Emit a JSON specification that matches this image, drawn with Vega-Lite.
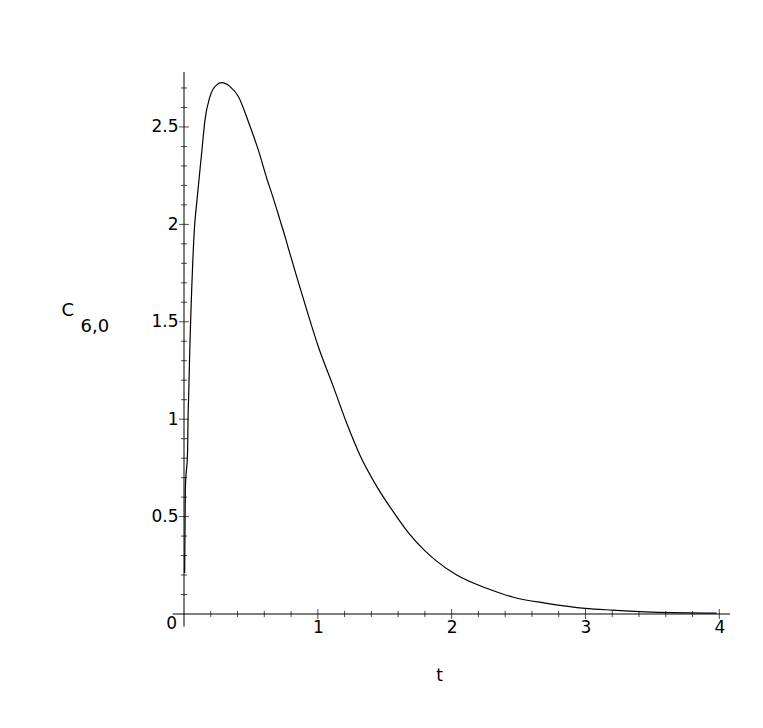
{
  "$schema": "https://vega.github.io/schema/vega-lite/v6.json",
  "width": 546,
  "height": 542,
  "autosize": {"type": "none"},
  "padding": {"left": 184, "top": 72, "right": 33, "bottom": 114},
  "background": "white",
  "config": {
    "view": {"stroke": null},
    "font": "DejaVu Sans",
    "axis": {"grid": false, "labelColor": "black", "titleColor": "black", "titleFontWeight": "normal", "labelFont": "DejaVu Sans", "titleFont": "DejaVu Sans"}
  },
  "datasets": {
    "curve": [
      {"t": 0.005, "c": 0.21},
      {"t": 0.010, "c": 0.64},
      {"t": 0.027, "c": 0.84},
      {"t": 0.030, "c": 1.0},
      {"t": 0.034, "c": 1.10},
      {"t": 0.045, "c": 1.40},
      {"t": 0.055, "c": 1.62},
      {"t": 0.065, "c": 1.80},
      {"t": 0.078, "c": 1.98},
      {"t": 0.095, "c": 2.11},
      {"t": 0.132, "c": 2.367},
      {"t": 0.157, "c": 2.536},
      {"t": 0.194, "c": 2.656},
      {"t": 0.244, "c": 2.716},
      {"t": 0.282, "c": 2.727},
      {"t": 0.344, "c": 2.707},
      {"t": 0.406, "c": 2.656},
      {"t": 0.481, "c": 2.527},
      {"t": 0.555, "c": 2.382},
      {"t": 0.630, "c": 2.211},
      {"t": 0.655, "c": 2.160},
      {"t": 0.717, "c": 2.023},
      {"t": 0.755, "c": 1.937},
      {"t": 0.780, "c": 1.877},
      {"t": 0.842, "c": 1.732},
      {"t": 0.917, "c": 1.561},
      {"t": 1.004, "c": 1.372},
      {"t": 1.116, "c": 1.167},
      {"t": 1.216, "c": 0.979},
      {"t": 1.315, "c": 0.815},
      {"t": 1.440, "c": 0.655},
      {"t": 1.590, "c": 0.499},
      {"t": 1.676, "c": 0.418},
      {"t": 1.801, "c": 0.324},
      {"t": 1.876, "c": 0.278},
      {"t": 2.038, "c": 0.200},
      {"t": 2.262, "c": 0.132},
      {"t": 2.461, "c": 0.086},
      {"t": 2.711, "c": 0.055},
      {"t": 2.997, "c": 0.029},
      {"t": 3.200, "c": 0.020},
      {"t": 3.500, "c": 0.010},
      {"t": 3.980, "c": 0.005}
    ],
    "xline": [{"x1": -0.085, "x2": 4.08, "y": 0}],
    "yline": [{"x": 0, "y1": -0.065, "y2": 2.782}],
    "xmajor": [{"v": 1}, {"v": 2}, {"v": 3}, {"v": 4}],
    "xminor": [{"v": 0.2}, {"v": 0.4}, {"v": 0.6}, {"v": 0.8}, {"v": 1.2}, {"v": 1.4}, {"v": 1.6}, {"v": 1.8}, {"v": 2.2}, {"v": 2.4}, {"v": 2.6}, {"v": 2.8}, {"v": 3.2}, {"v": 3.4}, {"v": 3.6}, {"v": 3.8}],
    "ymajor": [{"v": 0.5}, {"v": 1}, {"v": 1.5}, {"v": 2}, {"v": 2.5}],
    "yminor": [{"v": 0.1}, {"v": 0.2}, {"v": 0.3}, {"v": 0.4}, {"v": 0.6}, {"v": 0.7}, {"v": 0.8}, {"v": 0.9}, {"v": 1.1}, {"v": 1.2}, {"v": 1.3}, {"v": 1.4}, {"v": 1.6}, {"v": 1.7}, {"v": 1.8}, {"v": 1.9}, {"v": 2.1}, {"v": 2.2}, {"v": 2.3}, {"v": 2.4}, {"v": 2.6}, {"v": 2.7}],
    "origin": [{"t": 0, "c": 0, "label": "0"}]
  },
  "resolve": {"axis": {"x": "independent", "y": "independent"}},
  "layer": [
    {
      "data": {"name": "curve"},
      "mark": {"type": "line", "color": "black", "strokeWidth": 1.2, "interpolate": "monotone"},
      "encoding": {
        "x": {"field": "t", "type": "quantitative",
          "scale": {"domain": [0, 4.08], "nice": false, "zero": false},
          "axis": {"orient": "bottom", "values": [1, 2, 3, 4], "format": "~g", "domain": false, "ticks": false, "tickSize": 0, "labelPadding": 5, "labelFontSize": 17, "title": "t", "titleFontSize": 17, "titleX": 255, "titleY": 66, "titleAlign": "center", "titleBaseline": "alphabetic"}},
        "y": {"field": "c", "type": "quantitative",
          "scale": {"domain": [0, 2.782], "nice": false, "zero": false},
          "axis": {"orient": "left", "values": [0.5, 1, 1.5, 2, 2.5], "format": "~g", "domain": false, "ticks": false, "tickSize": 0, "labelPadding": 6, "labelFontSize": 17, "title": "C", "titleFontSize": 18, "titleAngle": 0, "titleAlign": "left", "titleBaseline": "alphabetic", "titleX": -123, "titleY": 243}}
      }
    },
    {
      "data": {"name": "xline"},
      "mark": {"type": "rule", "color": "black", "strokeWidth": 1},
      "encoding": {
        "x": {"field": "x1", "type": "quantitative", "axis": null},
        "x2": {"field": "x2"},
        "y": {"field": "y", "type": "quantitative", "axis": null}
      }
    },
    {
      "data": {"name": "yline"},
      "mark": {"type": "rule", "color": "black", "strokeWidth": 1},
      "encoding": {
        "x": {"field": "x", "type": "quantitative", "axis": null},
        "y": {"field": "y1", "type": "quantitative",
          "axis": {"orient": "left", "labels": false, "ticks": false, "domain": false, "title": "6,0", "titleFontSize": 18, "titleAngle": 0, "titleAlign": "left", "titleBaseline": "alphabetic", "titleX": -104, "titleY": 259}},
        "y2": {"field": "y2"}
      }
    },
    {
      "data": {"name": "xmajor"},
      "mark": {"type": "tick", "orient": "vertical", "color": "black", "size": 10, "thickness": 1},
      "encoding": {
        "x": {"field": "v", "type": "quantitative", "axis": null},
        "y": {"datum": 0, "type": "quantitative", "axis": null}
      }
    },
    {
      "data": {"name": "xminor"},
      "mark": {"type": "tick", "orient": "vertical", "color": "black", "size": 6, "thickness": 1},
      "encoding": {
        "x": {"field": "v", "type": "quantitative", "axis": null},
        "y": {"datum": 0, "type": "quantitative", "axis": null}
      }
    },
    {
      "data": {"name": "ymajor"},
      "mark": {"type": "tick", "orient": "horizontal", "color": "black", "size": 10, "thickness": 1},
      "encoding": {
        "y": {"field": "v", "type": "quantitative", "axis": null},
        "x": {"datum": 0, "type": "quantitative", "axis": null}
      }
    },
    {
      "data": {"name": "yminor"},
      "mark": {"type": "tick", "orient": "horizontal", "color": "black", "size": 6, "thickness": 1},
      "encoding": {
        "y": {"field": "v", "type": "quantitative", "axis": null},
        "x": {"datum": 0, "type": "quantitative", "axis": null}
      }
    },
    {
      "data": {"name": "origin"},
      "mark": {"type": "text", "align": "right", "baseline": "middle", "dx": -7, "dy": 10, "fontSize": 17, "font": "DejaVu Sans", "color": "black"},
      "encoding": {
        "x": {"field": "t", "type": "quantitative", "axis": null},
        "y": {"field": "c", "type": "quantitative", "axis": null},
        "text": {"field": "label"}
      }
    }
  ]
}
